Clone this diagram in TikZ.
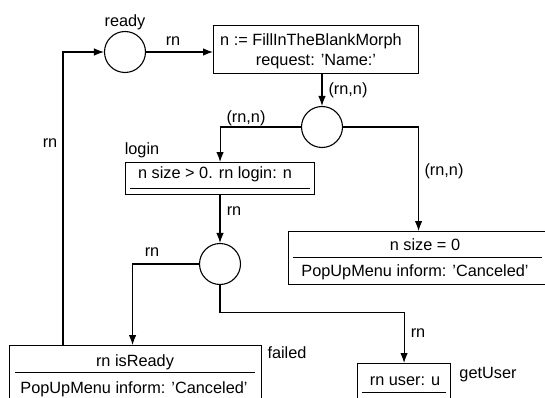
\documentclass[tikz,border=0pt]{standalone}
\usepackage{fontspec}
\setmainfont{Liberation Sans}
\usetikzlibrary{arrows.meta}

\begin{document}
\begin{tikzpicture}[x=1pt,y=-1pt,
    font=\fontsize{16.3}{20}\selectfont,
    every node/.style={inner sep=0pt},
    line width=1.1pt,
    arr/.style={-{Latex[length=10pt,width=7.5pt]}},
    place/.style={circle,draw,minimum size=41pt},
    trans/.style={draw,rectangle,anchor=north west},
    sepline/.style={line width=1pt}]
  \clip (0,0) rectangle (545,398);
  % places
  \node[place] (ready) at (125,52) {};
  \node[place] (split) at (322,127) {};
  \node[place] (check) at (220,264) {};
  \node (readyl) at (125,22) {ready};
  % transitions
  \node[trans,minimum width=205pt,minimum height=48pt] (fill) at (213,25) {};
  \node[anchor=base] (fill1) at (311,46) {n := FillInTheBlankMorph};
  \node[anchor=base] (fill2) at (316,66) {request: 'Name:'};
  \node[trans,minimum width=189pt,minimum height=32pt] (login) at (125,162) {};
  \node[anchor=base] (login1) at (215,178) {n size > 0. rn login: n};
  \draw[sepline] (130,188) -- (310,188);
  \node (loginl) at (142,150) {login};
  \node[trans,minimum width=260pt,minimum height=53pt] (cancel) at (288,231) {};
  \node[anchor=base] (cancel1) at (425,250) {n size = 0};
  \draw[sepline] (293,257) -- (542,257);
  \node[anchor=base] (cancel2) at (415,276) {PopUpMenu inform: 'Canceled'};
  \node[trans,minimum width=252pt,minimum height=70pt] (failed) at (9,345) {};
  \node[anchor=base] (failed1) at (135,366) {rn isReady};
  \draw[sepline] (15,372) -- (255,372);
  \node[anchor=base] (failed2) at (134,393) {PopUpMenu inform: 'Canceled'};
  \node (failedl) at (287,353) {failed};
  \node[trans,minimum width=93pt,minimum height=50pt] (user) at (357,363) {};
  \node[anchor=base] (user1) at (405,385) {rn user: u};
  \draw[sepline] (362,392) -- (446,392);
  \node (userl) at (488,375) {getUser};
  % arcs
  \draw[arr] (ready.east) -- (ready.east -| fill.west);
  \draw[arr] (fill.south -| split) -- (split.north);
  \draw[arr] (split.west) -| (login.north);
  \draw[arr] (split.east) -| (cancel.north);
  \draw[arr] (login.south -| check) -- (check.north);
  \draw[arr] (check.west) -| ([xshift=-3pt]failed.north);
  \draw[arr] (check.south) -- ++(0,27) -| (user.north);
  \draw[arr] ([xshift=54pt]failed.north west) |- (ready.west);
  % arc inscriptions
  \node (a1) at (173,41) {rn};
  \node (a2) at (348,90) {(rn,n)};
  \node (a3) at (246,118) {(rn,n)};
  \node (a4) at (444,171) {(rn,n)};
  \node (a5) at (234,211) {rn};
  \node (a6) at (152,252) {rn};
  \node (a7) at (418,333) {rn};
  \node (a8) at (50,143) {rn};
\end{tikzpicture}
\end{document}
